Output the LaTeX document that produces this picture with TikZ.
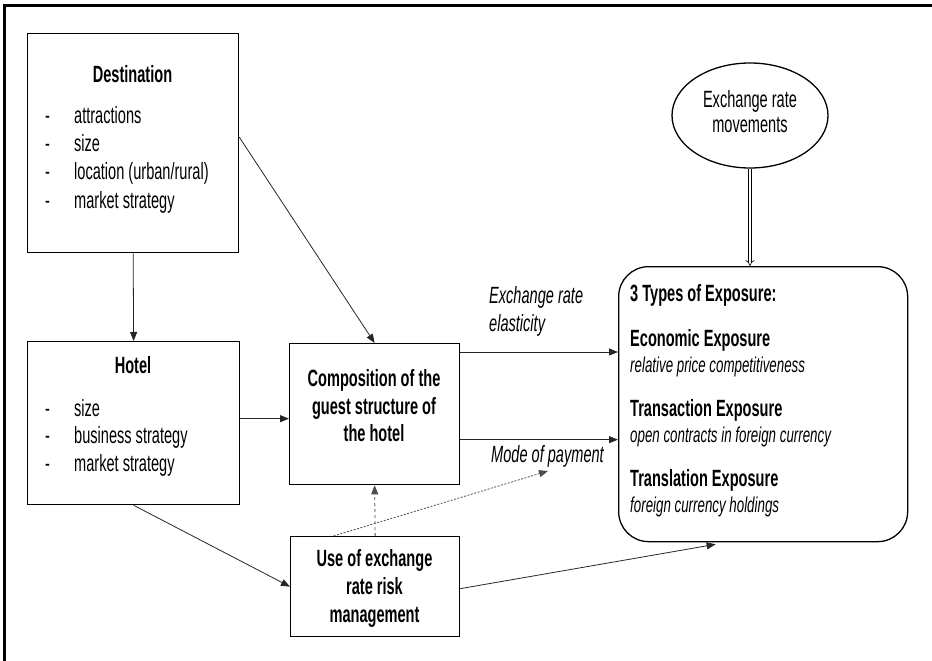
\documentclass[tikz,border=0pt]{standalone}
\usepackage{fontspec}
\setmainfont{Liberation Sans}[FakeStretch=0.62]
\usetikzlibrary{arrows.meta,shapes.geometric,calc}
\begin{document}
\begin{tikzpicture}[x=1pt,y=-1pt,
  box/.style={draw,line width=1.3pt,inner sep=0,anchor=north west},
  txt/.style={inner sep=0,font=\fontsize{23.5}{27.5}\selectfont},
  desc/.style={inner sep=0,anchor=west,font=\fontsize{21.5}{24}\selectfont\itshape},
  conn/.style={line width=0.8pt,draw=black!85,-{Triangle[length=9pt,width=7pt]}},
  dashconn/.style={conn,dashed,draw=black!70},
  dotconn/.style={conn,dash pattern=on 2pt off 1.5pt,draw=black!70}]
\useasboundingbox (0,0) rectangle (932,661);
\draw[line width=2.5pt] (4.5,661) -- (4.5,5.5) -- (932,5.5);
% boxes
\node[box,minimum width=211pt,minimum height=219pt] (dest) at (27,33) {};
\node[box,minimum width=212pt,minimum height=163pt] (hotel) at (27,341) {};
\node[box,minimum width=170pt,minimum height=141pt] (comp) at (289,343) {};
\node[box,minimum width=169pt,minimum height=100pt] (use) at (290,536) {};
\node[box,rounded corners=30pt,minimum width=289pt,minimum height=275pt] (expo) at (618,266) {};
\node[draw,line width=1.3pt,ellipse,minimum width=156pt,minimum height=105pt,inner sep=0] (ell) at (750,115.5) {};
% texts
\node[txt,font=\fontsize{23.5}{27.5}\selectfont\bfseries] (destT) at (132.5,74) {Destination};
\node[txt,anchor=west,align=left,font=\fontsize{23.5}{28.3}\selectfont] (destI) at (45,159.5)
  {\makebox[29pt][l]{-}attractions\\\makebox[29pt][l]{-}size\\\makebox[29pt][l]{-}location (urban/rural)\\\makebox[29pt][l]{-}market strategy};
\node[txt,font=\fontsize{23.5}{27.5}\selectfont\bfseries] (hotelT) at (133,365) {Hotel};
\node[txt,anchor=west,align=left] (hotelI) at (45,437.5)
  {\makebox[29pt][l]{-}size\\\makebox[29pt][l]{-}business strategy\\\makebox[29pt][l]{-}market strategy};
\node[txt,align=center,font=\fontsize{23.5}{27.5}\selectfont\bfseries] (compT) at (374,406)
  {Composition of the\\guest structure of\\the hotel};
\node[txt,align=center,font=\fontsize{23.5}{28}\selectfont\bfseries] (useT) at (374.5,588)
  {Use of exchange\\rate risk\\management};
\node[txt,align=center,font=\fontsize{23.5}{25}\selectfont] (ellT) at (750,112)
  {Exchange rate\\movements};
\node[txt,anchor=west,font=\fontsize{23.5}{27.5}\selectfont\bfseries] (ttl) at (630,295) {3 Types of Exposure:};
\node[txt,anchor=west,font=\fontsize{23.5}{27.5}\selectfont\bfseries] (econ) at (630,340) {Economic Exposure};
\node[desc] (econd) at (630,367) {relative price competitiveness};
\node[txt,anchor=west,font=\fontsize{23.5}{27.5}\selectfont\bfseries] (trans) at (630,410) {Transaction Exposure};
\node[desc] (transd) at (630,437) {open contracts in foreign currency};
\node[txt,anchor=west,font=\fontsize{23.5}{27.5}\selectfont\bfseries] (transl) at (630,480) {Translation Exposure};
\node[desc] (transld) at (630,507) {foreign currency holdings};
\node[txt,anchor=west,align=left,font=\fontsize{23.5}{28}\selectfont\itshape] (elas) at (489,311) {Exchange rate\\elasticity};
\node[txt,anchor=west,font=\fontsize{23.5}{27.5}\selectfont\itshape] (mode) at (491,456) {Mode of payment};
\coordinate (mp) at (548,471);
% connectors
\draw[conn] (dest.south) -- (hotel.north);
\draw[conn] ([yshift=6pt]dest.east) -- (comp.north);
\draw[conn] ([yshift=4.5pt]hotel.east) -- ([yshift=-4.5pt]comp.west);
\draw[conn] (hotel.south) -- (use.west);
\draw[conn] ([yshift=-9pt]comp.north east) -- ([yshift=-9pt]comp.north east -| expo.west);
\draw[conn] ([yshift=-25.5pt]comp.east) -- ([yshift=-25.5pt]comp.east -| expo.west);
\draw[dashconn] (use.north) -- (comp.south);
\draw[dotconn] ([xshift=43.5pt]use.north west) -- (mp);
\draw[conn] ([yshift=-2pt]use.east) -- ([xshift=-47.5pt,yshift=-2pt]expo.south);
\draw[line width=0.6pt,double,double distance=2.5pt,-{Implies[length=6pt]}] (ell.south) -- (ell.south |- expo.north);
\end{tikzpicture}
\end{document}
